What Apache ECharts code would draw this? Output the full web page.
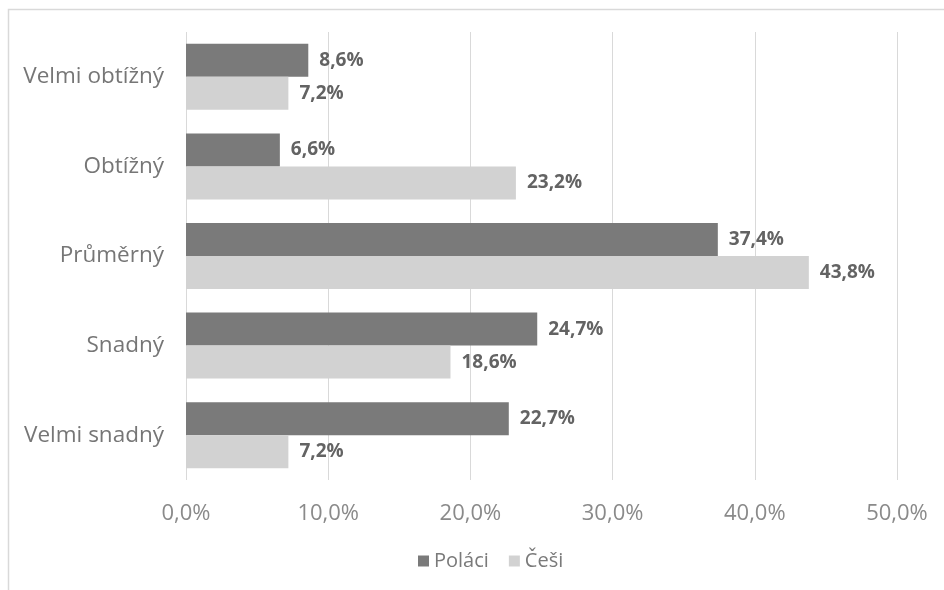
<!DOCTYPE html>
<html>
<head>
<meta charset="utf-8">
<script src="https://cdn.jsdelivr.net/npm/echarts@6/dist/echarts.min.js"></script>
<style>
  html, body { margin: 0; padding: 0; background: #fff; }
  #chart { width: 944px; height: 590px; }
</style>
</head>
<body>
<div id="chart"></div>
<script>
// Obtížnost – podíl odpovědí (%)
const categories = ['Velmi obtížný', 'Obtížný', 'Průměrný', 'Snadný', 'Velmi snadný'];
const polaci = [8.6, 6.6, 37.4, 24.7, 22.7];
const cesi = [7.2, 23.2, 43.8, 18.6, 7.2];
const seriesNames = ['Poláci', 'Češi'];
const axisMin = 0, axisMax = 50, axisStep = 10;

const fmt = v => v.toFixed(1).replace('.', ',') + '%';
const FONT = '"Open Sans", "Noto Sans", sans-serif';

const chart = echarts.init(document.getElementById('chart'));

const labelStyle = {
  show: true,
  position: 'right',
  distance: 11,
  fontFamily: FONT,
  fontSize: 19,
  fontWeight: 'bold',
  color: '#636363',
  formatter: p => fmt(p.value)
};

chart.setOption({
  animation: false,
  backgroundColor: '#fff',
  graphic: [{
    type: 'polyline',
    silent: true,
    shape: { points: [[8.5, 590], [8.5, 9.5], [944, 9.5]] },
    style: { stroke: '#d9d9d9', lineWidth: 1.5, fill: null }
  }],
  grid: { left: 186, right: 47, top: 32, bottom: 110, containLabel: false },
  legend: {
    data: seriesNames,
    bottom: 14,
    left: 413,
    itemWidth: 11,
    itemHeight: 11,
    itemGap: 20,
    icon: 'rect',
    textStyle: { fontFamily: FONT, fontSize: 20, color: '#7a7a7a' }
  },
  xAxis: {
    type: 'value',
    min: axisMin,
    max: axisMax,
    interval: axisStep,
    axisLine: { show: false },
    axisTick: { show: false },
    splitLine: { show: true, lineStyle: { color: '#d9d9d9', width: 1 } },
    axisLabel: {
      formatter: v => fmt(v),
      fontFamily: FONT,
      fontSize: 22,
      color: '#8a8a8a',
      margin: 23
    }
  },
  yAxis: {
    type: 'category',
    data: categories,
    inverse: true,
    axisLine: { show: false },
    axisTick: { show: false },
    axisLabel: {
      fontFamily: FONT,
      fontSize: 22.5,
      color: '#767676',
      margin: 22
    }
  },
  series: [
    {
      name: seriesNames[0],
      type: 'bar',
      data: polaci,
      barWidth: 33,
      barGap: '0%',
      itemStyle: { color: '#7a7a7a' },
      label: labelStyle
    },
    {
      name: seriesNames[1],
      type: 'bar',
      data: cesi,
      barWidth: 33,
      barGap: '0%',
      itemStyle: { color: '#d2d2d2' },
      label: labelStyle
    }
  ]
});
</script>
</body>
</html>
